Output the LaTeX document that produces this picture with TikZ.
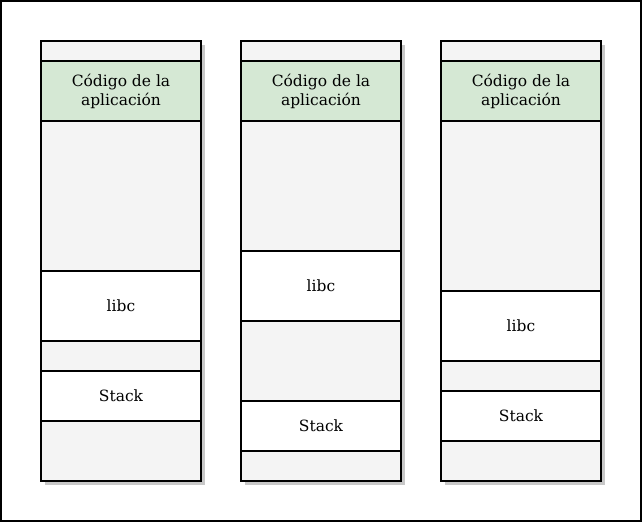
\documentclass[tikz,border=0pt]{standalone}
\usepackage{fontspec}
\setmainfont{DejaVu Serif}
\definecolor{colfill}{HTML}{F4F4F4}
\definecolor{appfill}{HTML}{D5E8D4}
\definecolor{shadowc}{HTML}{C8C8C8}
\begin{document}
\begin{tikzpicture}[x=1pt,y=-1pt,
  colbox/.style={draw=black,line width=2pt,fill=colfill},
  appbox/.style={draw=black,line width=2pt,fill=appfill,minimum width=160pt,minimum height=60pt,inner sep=0pt,align=center,font=\fontsize{15.5}{19}\selectfont},
  membox/.style={draw=black,line width=2pt,fill=white,minimum width=160pt,inner sep=0pt,align=center,font=\fontsize{15.5}{19}\selectfont}]
\useasboundingbox (0,0) rectangle (642,522);
\draw[line width=1.3pt,fill=white] (1,1) rectangle (641,521);
% columns
\foreach \x in {41,241,441}{
  \fill[shadowc] (\x+4,45) rectangle (\x+164,485);
  \draw[colbox] (\x,41) rectangle (\x+160,481);
}
\node[appbox] (app1) at (121,91) {Código de la\\aplicación};
\node[appbox] (app2) at (321,91) {Código de la\\aplicación};
\node[appbox] (app3) at (521,91) {Código de la\\aplicación};
\node[membox,minimum height=70pt] (libc1) at (121,306) {libc};
\node[membox,minimum height=70pt] (libc2) at (321,286) {libc};
\node[membox,minimum height=70pt] (libc3) at (521,326) {libc};
\node[membox,minimum height=50pt] (stack1) at (121,396) {Stack};
\node[membox,minimum height=50pt] (stack2) at (321,426) {Stack};
\node[membox,minimum height=50pt] (stack3) at (521,416) {Stack};
\end{tikzpicture}
\end{document}
